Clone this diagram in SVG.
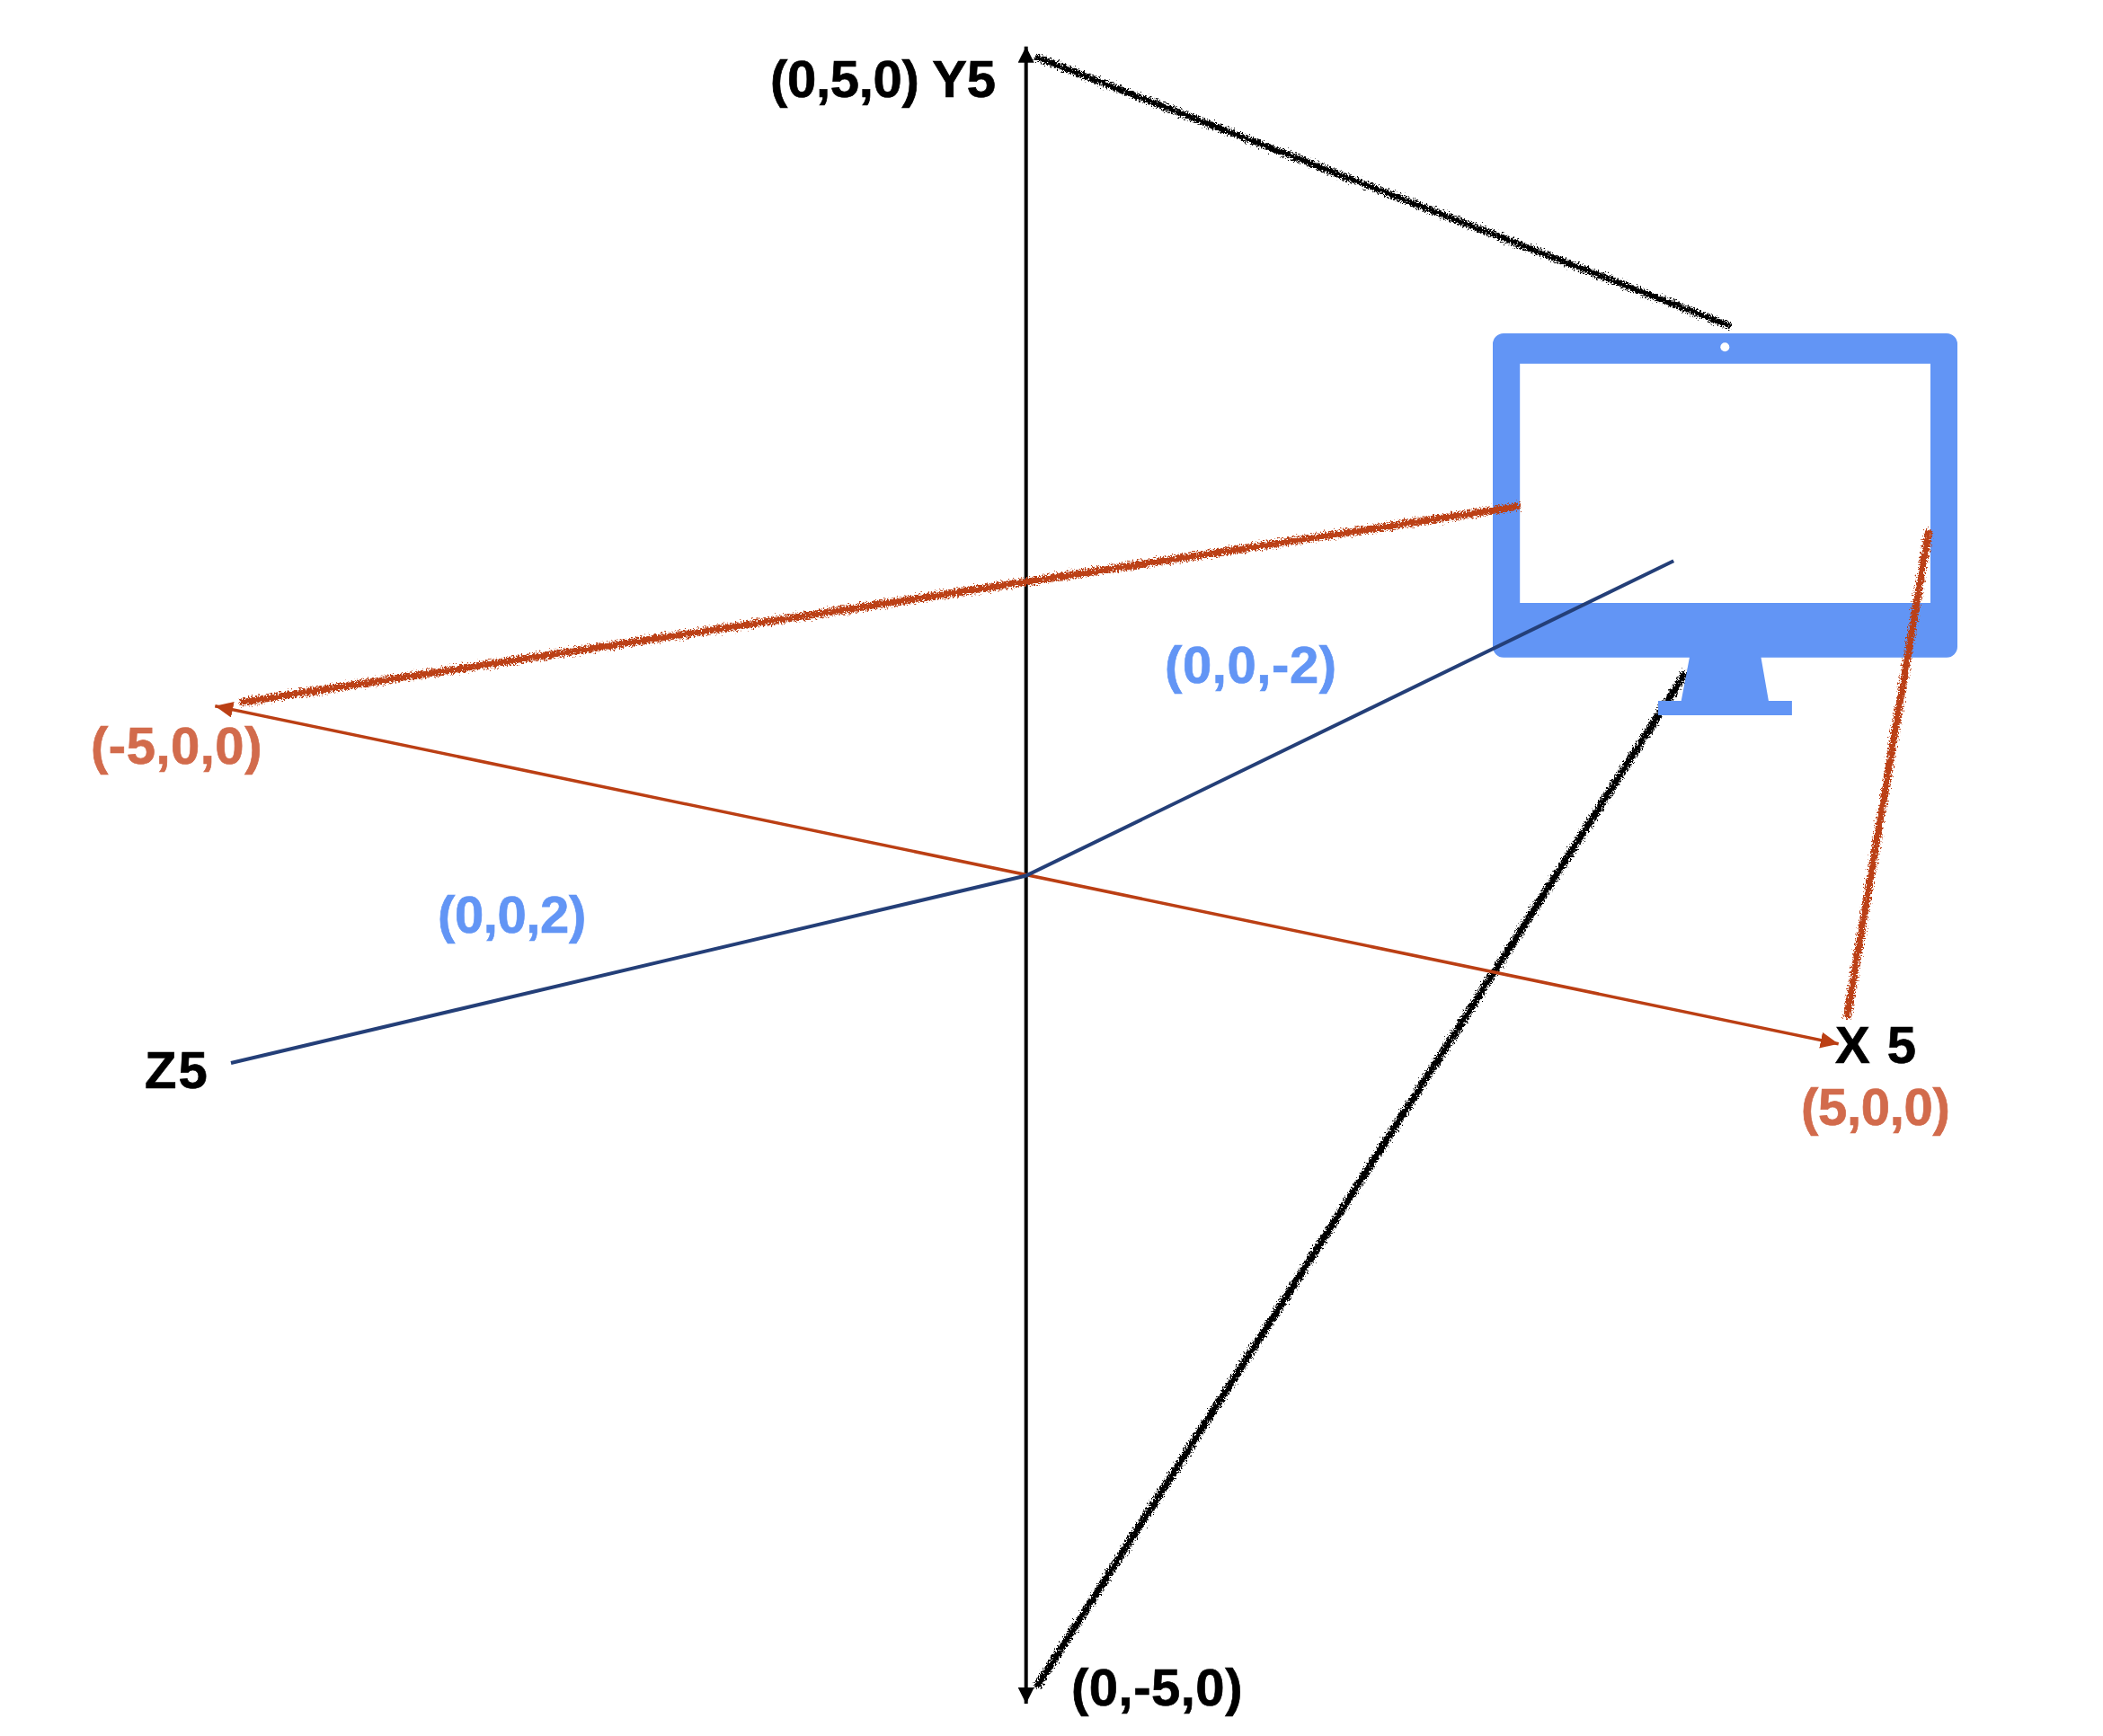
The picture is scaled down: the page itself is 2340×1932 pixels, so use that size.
<svg xmlns="http://www.w3.org/2000/svg" width="2340" height="1932" viewBox="0 0 2340 1932">
<style>
text{font-family:"Liberation Sans",Arial,sans-serif;font-weight:700;font-size:58px;stroke-width:.7px}
.k{fill:#000;stroke:#000}.o{fill:#D26B4C;stroke:#D26B4C}.b{fill:#6295F5;stroke:#6295F5}
.ax{fill:none;stroke-linecap:butt}
.rough{fill:none;stroke-linecap:butt;filter:url(#rough)}
</style>
<defs>
<filter id="rough" filterUnits="userSpaceOnUse" x="0" y="0" width="2340" height="1932">
<feTurbulence type="fractalNoise" baseFrequency="0.55" numOctaves="3" seed="4"/>
<feDisplacementMap in="SourceGraphic" scale="11" xChannelSelector="R" yChannelSelector="G"/>
</filter>
<marker id="hk" markerUnits="userSpaceOnUse" markerWidth="20" markerHeight="20" refX="18" refY="9" orient="auto-start-reverse"><path d="M0 0L18 9L0 18Z" fill="#000"/></marker>
<marker id="hr" markerUnits="userSpaceOnUse" markerWidth="22" markerHeight="20" refX="20" refY="9" orient="auto-start-reverse"><path d="M0 0L20 9L0 18Z" fill="#BB3F14"/></marker>
</defs>
<rect width="2340" height="1932" fill="#fff"/>
<g id="connectors-back">
<path class="rough" stroke="#000" stroke-width="8" d="M1153 1878L1876 748"/>
<path class="rough" stroke="#000" stroke-width="7" d="M1152 63L1926 363.300"/>
</g>
<g id="monitor">
<path fill="#6295F5" fill-rule="evenodd" d="M1673 371H2166a12 12 0 0 1 12 12V719.700a12 12 0 0 1-12 12H1959.500L1967.900 780H1993.900V796H1845V780H1870.700L1879.900 731.700H1673a12 12 0 0 1-12-12V383a12 12 0 0 1 12-12ZM1691.200 404.700V671H2148V404.700Z"/>
<ellipse cx="1919.300" cy="386.300" rx="5" ry="5" fill="#fff"/>
</g>
<g id="connectors">
<path class="ax" stroke="#000" stroke-width="4" marker-start="url(#hk)" marker-end="url(#hk)" d="M1141.700 51.700V1896"/>
<path class="ax" stroke="#BB3F14" stroke-width="3.500" marker-start="url(#hr)" marker-end="url(#hr)" d="M239.300 785.700L2045.700 1161.700"/>
<path class="ax" stroke="#243F78" stroke-width="4" d="M257 1183L1141.700 974.500L1862.200 624.300"/>
<path class="rough" stroke="#BB3F14" stroke-width="8" d="M267 781.700L1691 563.300"/>
<path class="rough" stroke="#BB3F14" stroke-width="8" d="M2146.200 590L2055 1133"/>
</g>
<g id="labels">
<text class="k" x="857" y="108" letter-spacing="-.3">(0,5,0) Y5</text>
<text class="o" x="101" y="850" letter-spacing=".5">(-5,0,0)</text>
<text class="k" x="2042" y="1183" word-spacing="3">X 5</text>
<text class="o" x="2004" y="1252" letter-spacing="-.3">(5,0,0)</text>
<text class="k" x="1192" y="1898" letter-spacing=".5">(0,-5,0)</text>
<text class="k" x="161" y="1211" letter-spacing="2">Z5</text>
<text class="b" x="487" y="1038" letter-spacing="-.4">(0,0,2)</text>
<text class="b" x="1296" y="760" letter-spacing=".6">(0,0,-2)</text>
</g>
</svg>
